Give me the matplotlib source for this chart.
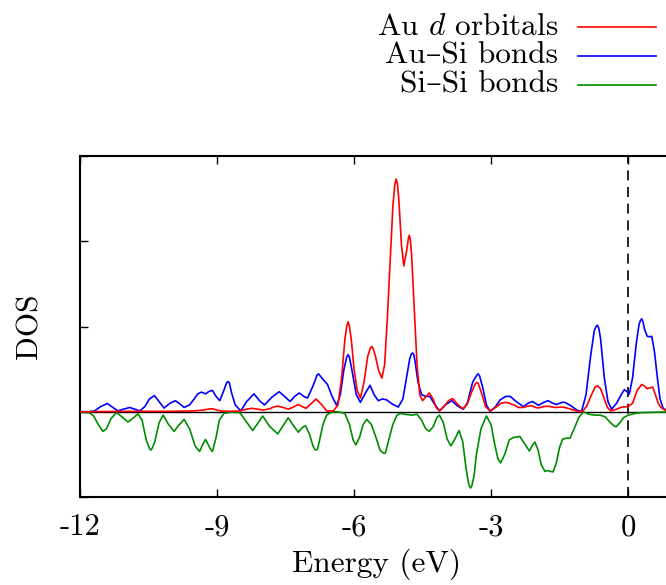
import matplotlib
matplotlib.use("Agg")
import matplotlib.pyplot as plt
from matplotlib.lines import Line2D

plt.rcParams['font.family'] = ['cmr10', 'DejaVu Serif']
plt.rcParams['mathtext.fontset'] = 'cm'
plt.rcParams['axes.unicode_minus'] = False
plt.rcParams['axes.formatter.use_mathtext'] = True

# Au d orbitals
au_d_E = [-12.0, -11.0, -10.0, -9.5, -9.3, -9.2, -9.1, -9.0, -8.9, -8.7, -8.5, -8.35,
          -8.24, -8.1, -7.99, -7.85, -7.75, -7.66, -7.55, -7.44, -7.33, -7.22, -7.13,
          -7.05, -6.95, -6.83, -6.72, -6.6, -6.45, -6.35, -6.27, -6.2, -6.16, -6.13,
          -6.10, -6.06, -6.0, -5.93, -5.86, -5.78, -5.7, -5.64, -5.61, -5.58, -5.53,
          -5.46, -5.39, -5.33, -5.27, -5.21, -5.15, -5.11, -5.08, -5.05, -5.02, -4.96,
          -4.91, -4.85, -4.81, -4.79, -4.77, -4.74, -4.68, -4.62, -4.56, -4.5, -4.42,
          -4.35, -4.27, -4.2, -4.13, -4.03, -3.93, -3.84, -3.72, -3.61, -3.52, -3.42,
          -3.34, -3.31, -3.28, -3.22, -3.12, -3.02, -2.9, -2.78, -2.66, -2.5, -2.4,
          -2.3, -2.2, -2.11, -2.02, -1.96, -1.85, -1.75, -1.6, -1.45, -1.38, -1.25,
          -1.1, -1.0, -0.9, -0.8, -0.72, -0.67, -0.6, -0.52, -0.45, -0.38, -0.25,
          -0.14, 0.0, 0.1, 0.2, 0.3, 0.36, 0.42, 0.48, 0.54, 0.6, 0.66, 0.72, 0.84, 1.0]
au_d_D = [0, 0.005, 0.005, 0.01, 0.02, 0.03, 0.035, 0.02, 0.008, 0.005, 0.01, 0.03,
          0.04, 0.03, 0.02, 0.035, 0.058, 0.065, 0.05, 0.03, 0.055, 0.085, 0.06,
          0.04, 0.09, 0.15, 0.09, 0.01, 0.01, 0.08, 0.4, 0.85, 1.0, 1.055,
          1.0, 0.85, 0.5, 0.25, 0.16, 0.35, 0.65, 0.75, 0.765, 0.74, 0.65,
          0.48, 0.395, 0.55, 1.1, 1.75, 2.4, 2.65, 2.73, 2.68, 2.5, 1.95,
          1.71, 1.88, 2.03, 2.07, 2.03, 1.85, 1.2, 0.55, 0.2, 0.13, 0.18,
          0.22, 0.15, 0.05, 0.01, 0.06, 0.13, 0.155, 0.08, 0.035, 0.09, 0.24,
          0.33, 0.345, 0.33, 0.24, 0.06, 0.01, 0.05, 0.1, 0.11, 0.08, 0.05,
          0.05, 0.065, 0.07, 0.05, 0.045, 0.06, 0.065, 0.05, 0.055, 0.05, 0.03,
          0.005, 0.0, 0.07, 0.2, 0.29, 0.305, 0.27, 0.15, 0.05, 0.01, 0.03,
          0.055, 0.06, 0.1, 0.25, 0.32, 0.3, 0.27, 0.28, 0.29, 0.2, 0.1, 0.05, 0.01, 0.0]

# Au-Si bonds
ausi_E = [-12.0, -11.8, -11.68, -11.55, -11.40, -11.28, -11.17, -11.05, -10.91, -10.8,
          -10.69, -10.58, -10.48, -10.37, -10.27, -10.16, -10.03, -9.91, -9.81, -9.72,
          -9.6, -9.5, -9.42, -9.34, -9.25, -9.17, -9.10, -9.02, -8.94, -8.85, -8.79,
          -8.76, -8.73, -8.68, -8.6, -8.48, -8.35, -8.19, -8.07, -7.96, -7.8, -7.64,
          -7.52, -7.40, -7.30, -7.20, -7.1, -7.02, -6.9, -6.81, -6.78, -6.74, -6.68,
          -6.58, -6.48, -6.38, -6.3, -6.22, -6.16, -6.13, -6.10, -6.05, -5.95, -5.86,
          -5.75, -5.65, -5.56, -5.47, -5.38, -5.29, -5.16, -5.03, -4.93, -4.85, -4.78,
          -4.75, -4.72, -4.69, -4.66, -4.6, -4.52, -4.43, -4.34, -4.25, -4.13, -4.0,
          -3.86, -3.74, -3.61, -3.52, -3.4, -3.31, -3.28, -3.25, -3.18, -3.1, -3.02,
          -2.9, -2.8, -2.68, -2.58, -2.45, -2.29, -2.19, -2.09, -1.96, -1.85, -1.75,
          -1.65, -1.56, -1.45, -1.38, -1.25, -1.12, -1.02, -0.92, -0.82, -0.74, -0.70,
          -0.67, -0.64, -0.6, -0.52, -0.44, -0.36, -0.25, -0.15, -0.08, 0.03, 0.1,
          0.18, 0.24, 0.27, 0.30, 0.33, 0.36, 0.42, 0.47, 0.52, 0.58, 0.64, 0.7, 0.77,
          0.9, 1.0]
ausi_D = [0, 0, 0.01, 0.06, 0.097, 0.05, 0.01, 0.03, 0.05, 0.03,
          0.01, 0.06, 0.15, 0.19, 0.12, 0.043, 0.1, 0.13, 0.09, 0.05,
          0.08, 0.15, 0.21, 0.23, 0.21, 0.24, 0.25, 0.18, 0.13, 0.25, 0.34,
          0.355, 0.34, 0.22, 0.08, 0.01, 0.12, 0.21, 0.13, 0.08, 0.17, 0.235,
          0.18, 0.12, 0.18, 0.22, 0.18, 0.16, 0.3, 0.43, 0.445, 0.42, 0.38,
          0.32, 0.18, 0.075, 0.2, 0.5, 0.64, 0.67, 0.64, 0.5, 0.2, 0.11,
          0.22, 0.31, 0.2, 0.13, 0.15, 0.14, 0.09, 0.055, 0.15, 0.4, 0.62,
          0.67, 0.69, 0.67, 0.58, 0.35, 0.2, 0.18, 0.18, 0.1, 0.01, 0.08,
          0.13, 0.07, 0.03, 0.1, 0.35, 0.43, 0.445, 0.42, 0.28, 0.08, 0.005,
          0.06, 0.14, 0.18, 0.18, 0.12, 0.06, 0.1, 0.12, 0.075, 0.11, 0.13,
          0.1, 0.085, 0.11, 0.11, 0.07, 0.02, 0.0, 0.2, 0.65, 0.95, 1.0,
          1.015, 0.98, 0.85, 0.4, 0.12, 0.03, 0.1, 0.2, 0.26, 0.21, 0.4,
          0.8, 1.02, 1.07, 1.09, 1.05, 0.97, 0.885, 0.88, 0.885, 0.7, 0.41, 0.15, 0.04,
          0.0, 0.0]

# Si-Si bonds (plotted negative)
sisi_E = [-12.0, -11.8, -11.7, -11.6, -11.50, -11.42, -11.32, -11.20, -11.08, -10.95,
          -10.85, -10.73, -10.64, -10.55, -10.48, -10.45, -10.42, -10.36, -10.27, -10.18,
          -10.06, -9.94, -9.84, -9.72, -9.6, -9.48, -9.41, -9.38, -9.31, -9.25, -9.18,
          -9.13, -9.10, -9.02, -8.95, -8.85, -8.7, -8.5, -8.38, -8.22, -8.1, -8.0,
          -7.85, -7.67, -7.55, -7.44, -7.33, -7.22, -7.12, -7.06, -6.97, -6.9, -6.86,
          -6.83, -6.80, -6.76, -6.68, -6.6, -6.5, -6.42, -6.3, -6.2, -6.1, -6.02,
          -5.96, -5.88, -5.8, -5.72, -5.62, -5.52, -5.43, -5.37, -5.34, -5.31, -5.25,
          -5.15, -5.06, -4.99, -4.88, -4.74, -4.62, -4.52, -4.43, -4.35, -4.26, -4.19,
          -4.13, -4.05, -3.96, -3.88, -3.8, -3.70, -3.62, -3.55, -3.49, -3.45, -3.42,
          -3.37, -3.32, -3.22, -3.1, -3.0, -2.92, -2.85, -2.79, -2.7, -2.6, -2.5,
          -2.37, -2.27, -2.16, -2.1, -2.04, -1.97, -1.9, -1.82, -1.77, -1.70, -1.64,
          -1.57, -1.5, -1.43, -1.35, -1.27, -1.18, -1.08, -0.98, -0.85, -0.72, -0.61,
          -0.5, -0.4, -0.3, -0.26, -0.18, -0.1, 0.0, 0.15, 0.3, 0.6, 1.0]
sisi_D = [0, -0.01, -0.05, -0.15, -0.23, -0.2, -0.08, -0.01, -0.06, -0.12,
          -0.08, -0.025, -0.1, -0.33, -0.43, -0.45, -0.43, -0.35, -0.13, -0.04,
          -0.15, -0.23, -0.16, -0.09, -0.2, -0.4, -0.45, -0.465, -0.38, -0.325, -0.4,
          -0.45, -0.465, -0.3, -0.1, -0.02, -0.005, -0.01, -0.1, -0.22, -0.13, -0.05,
          -0.17, -0.26, -0.16, -0.07, -0.16, -0.24, -0.18, -0.165, -0.27, -0.4, -0.44,
          -0.45, -0.44, -0.35, -0.15, -0.04, -0.005, 0, -0.005, -0.02, -0.15, -0.33,
          -0.39, -0.3, -0.15, -0.09, -0.15, -0.3, -0.45, -0.48, -0.49, -0.48, -0.35,
          -0.15, -0.04, -0.02, -0.03, -0.04, -0.03, -0.1, -0.2, -0.23, -0.17, -0.07,
          -0.04, -0.12, -0.32, -0.40, -0.33, -0.22, -0.35, -0.65, -0.85, -0.895, -0.87,
          -0.75, -0.5, -0.2, -0.05, -0.15, -0.38, -0.55, -0.6, -0.5, -0.33, -0.3,
          -0.29, -0.37, -0.46, -0.4, -0.355, -0.45, -0.62, -0.70, -0.69, -0.70, -0.705,
          -0.6, -0.42, -0.32, -0.31, -0.31, -0.2, -0.07, 0, -0.03, -0.04, -0.04,
          -0.06, -0.12, -0.17, -0.175, -0.13, -0.07, -0.04, -0.02, -0.01, -0.005, 0]

xticks = [-12, -9, -6, -3, 0]
xticklabels = ['-12', '-9', '-6', '-3', '0']
yticks = [-1, 0, 1, 2, 3]

labels = ['Au $d$ orbitals', 'Au\u2013Si bonds', 'Si\u2013Si bonds']
colors = ['#ff0000', '#0000ff', '#008c00']

fig = plt.figure(figsize=(6.66, 5.85), dpi=100)
ax = fig.add_axes([80/666, 88/585, 593.7/666, 341/585])

ax.axhline(0, color='black', lw=1.0, zorder=1)
ax.axvline(0, color='black', lw=1.2, ls=(0, (6, 4)), zorder=1)

ax.plot(au_d_E, au_d_D, color=colors[0], lw=1.2, zorder=3)
ax.plot(ausi_E, ausi_D, color=colors[1], lw=1.2, zorder=2)
ax.plot(sisi_E, sisi_D, color=colors[2], lw=1.2, zorder=2)

ax.set_xlim(-12, 1.0)
ax.set_ylim(-1, 3)
ax.set_xticks(xticks)
ax.set_xticklabels(xticklabels)
ax.set_yticks(yticks)
ax.set_yticklabels([])
ax.tick_params(direction='in', length=6, width=1.0, top=True, right=True,
               labelsize=22, pad=12)
for s in ax.spines.values():
    s.set_linewidth(1.5)

ax.set_xlabel('Energy (eV)', fontsize=22.5, labelpad=5)
ax.set_ylabel('DOS', fontsize=22.5, labelpad=14)

# key, top right, text right-aligned with sample lines after it
rows = [27, 56, 85]
for lab, c, r in zip(labels, colors, rows):
    yf = 1 - r/585
    fig.text(558/666, yf, lab, ha='right', va='center', fontsize=22.5)
    fig.add_artist(Line2D([578/666, 656/666], [yf, yf], color=c, lw=1.2))

fig.savefig('out.png', dpi=100)
